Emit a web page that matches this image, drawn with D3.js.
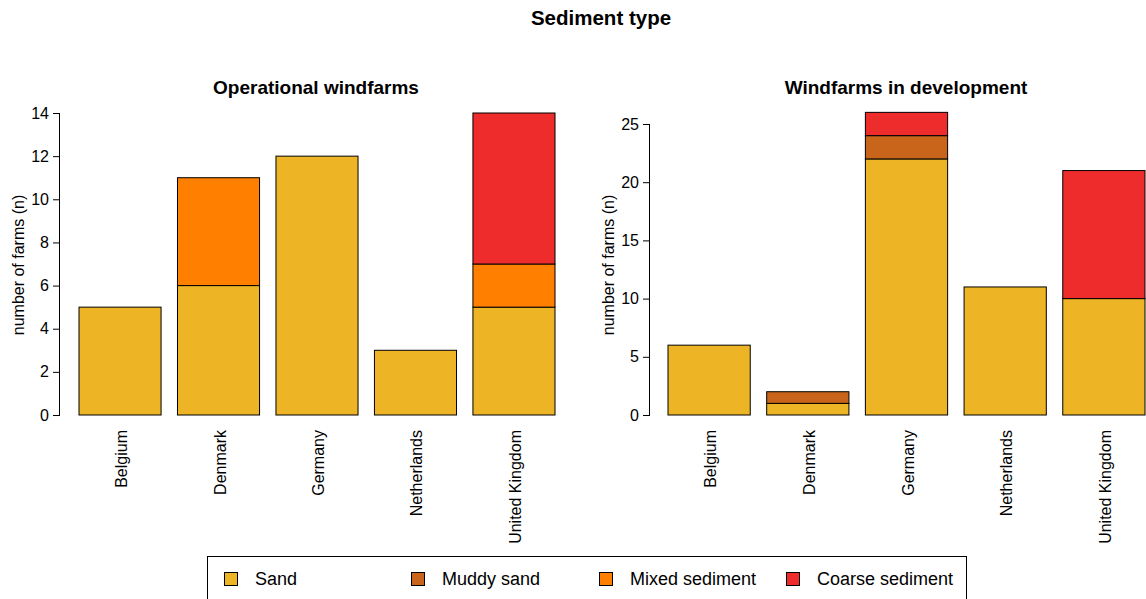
<!DOCTYPE html>
<html><head><meta charset="utf-8">
<script src="https://cdn.jsdelivr.net/npm/d3@7"></script>
<style>body{margin:0;background:#fff}svg{font-family:"Liberation Sans",Arial,sans-serif}</style>
</head><body><svg id="c" width="1146" height="599"></svg>
<script>
const countries = ["Belgium","Denmark","Germany","Netherlands","United Kingdom"];
const sedimentTypes = ["Sand","Muddy sand","Mixed sediment","Coarse sediment"];
const sedimentColors = ["#EDB526","#C8651B","#FF7F00","#EE2C2C"];
// Operational windfarms, per sediment type
const opSand   = [5, 6, 12, 3, 5];
const opMuddy  = [0, 0, 0, 0, 0];
const opMixed  = [0, 5, 0, 0, 2];
const opCoarse = [0, 0, 0, 0, 7];
const opTicks = [0,2,4,6,8,10,12,14];
// Windfarms in development
const devSand   = [6, 1, 22, 11, 10];
const devMuddy  = [0, 1, 2, 0, 0];
const devMixed  = [0, 0, 0, 0, 0];
const devCoarse = [0, 0, 2, 0, 11];
const devTicks = [0,5,10,15,20,25];

const svg = d3.select("#c");
svg.append("text").attr("x",601).attr("y",25).attr("text-anchor","middle")
  .attr("font-weight","bold").attr("font-size",20.5).text("Sediment type");

function panel(cfg){
  const g = svg.append("g");
  const series = [cfg.sand,cfg.muddy,cfg.mixed,cfg.coarse];
  const rows = countries.map((c,i)=>{const o={country:c};sedimentTypes.forEach((s,k)=>o[s]=series[k][i]);return o;});
  const stack = d3.stack().keys(sedimentTypes)(rows);
  const x = d3.scaleLinear().domain([0.2,6.0]).range([cfg.x0,cfg.x1]);
  const y = d3.scaleLinear().domain([0,cfg.ymax]).range([415,cfg.ytop]);
  stack.forEach((layer,k)=>{
    layer.forEach((d,i)=>{
      if(d[1]-d[0]<=0) return;
      const left = 0.2 + i*1.2;
      g.append("rect").attr("x",x(left)).attr("width",x(left+1)-x(left))
        .attr("y",y(d[1])).attr("height",y(d[0])-y(d[1]))
        .attr("fill",sedimentColors[k]).attr("stroke","#000").attr("stroke-width",1);
    });
  });
  const ax = g.append("g").attr("transform",`translate(${cfg.axisX},0)`)
    .call(d3.axisLeft(y).tickValues(cfg.ticks).tickSize(7).tickPadding(4).tickFormat(d3.format("d")));
  ax.select(".domain").attr("d",`M-0.5,${y(0)}V${y(cfg.ticks[cfg.ticks.length-1])}`).attr("stroke","#000");
  ax.selectAll(".tick line").attr("stroke","#000");
  ax.selectAll("text").attr("font-size",16).attr("fill","#000").attr("font-family","Liberation Sans, Arial, sans-serif");
  countries.forEach((c,i)=>{
    const cx = x(0.7+i*1.2);
    g.append("text").attr("transform",`translate(${cx+7},430) rotate(-90)`)
      .attr("text-anchor","end").attr("font-size",16).text(c);
  });
  g.append("text").attr("transform",`translate(${cfg.axisX-36},265) rotate(-90)`)
    .attr("text-anchor","middle").attr("font-size",16).text("number of farms (n)");
  g.append("text").attr("x",cfg.titleX).attr("y",94).attr("text-anchor","middle")
    .attr("font-weight","bold").attr("font-size",19).text(cfg.title);
}
panel({sand:opSand,muddy:opMuddy,mixed:opMixed,coarse:opCoarse,ticks:opTicks,ymax:14,ytop:113,
  x0:79,x1:555,axisX:60,titleX:316,title:"Operational windfarms"});
panel({sand:devSand,muddy:devMuddy,mixed:devMixed,coarse:devCoarse,ticks:devTicks,ymax:25,ytop:124,
  x0:668,x1:1145,axisX:650,titleX:906,title:"Windfarms in development"});

// legend
const lg = svg.append("g");
lg.append("rect").attr("x",207.5).attr("y",556.5).attr("width",759).attr("height",60)
  .attr("fill","none").attr("stroke","#000");
const legendX = [224, 411, 599, 786];
sedimentTypes.forEach((s,k)=>{
  lg.append("rect").attr("x",legendX[k]+0.5).attr("y",572.5).attr("width",13).attr("height",13)
    .attr("fill",sedimentColors[k]).attr("stroke","#000");
  lg.append("text").attr("x",legendX[k]+31).attr("y",585).attr("font-size",18).text(s);
});
</script></body></html>
